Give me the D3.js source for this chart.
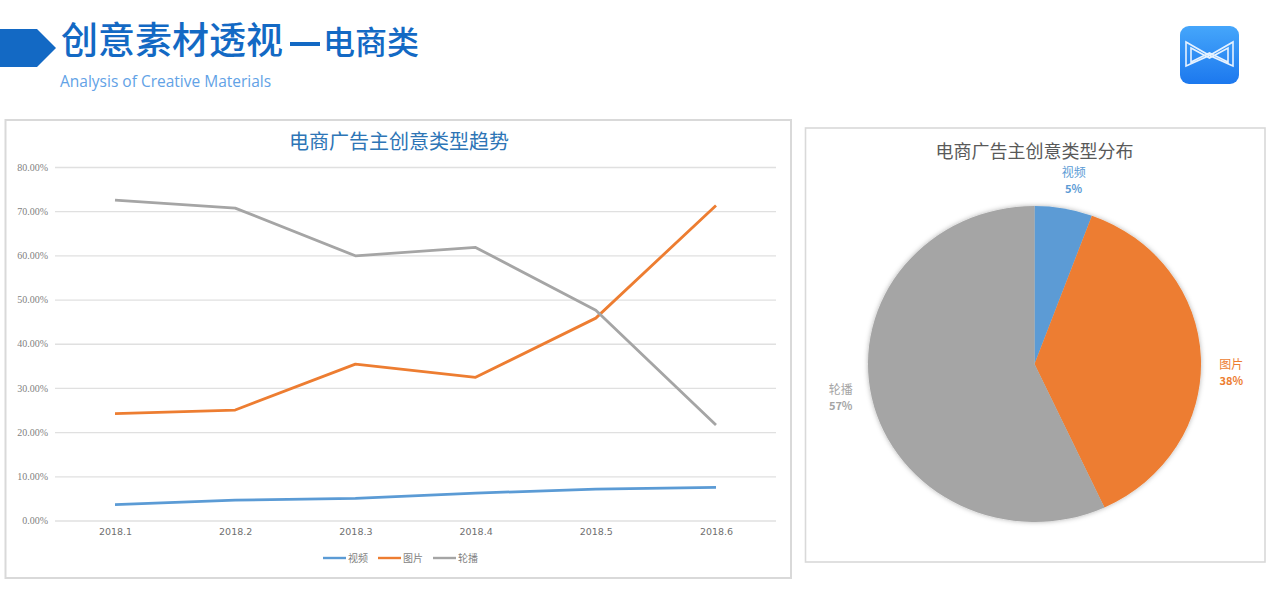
<!DOCTYPE html>
<html>
<head>
<meta charset="utf-8">
<script src="https://cdn.jsdelivr.net/npm/d3@7"></script>
<style>
  html, body { margin: 0; padding: 0; background: #fff; overflow: hidden; }
  svg { display: block; }
  text { font-family: "Noto Sans CJK SC", "Noto Sans", sans-serif; }
</style>
</head>
<body>
<div id="chart"></div>
<script>
// values
const months = ["2018.1", "2018.2", "2018.3", "2018.4", "2018.5", "2018.6"]
const yTicks = [0, 10, 20, 30, 40, 50, 60, 70, 80]
const seriesNames = ["视频", "图片", "轮播"]
const video = [3.6, 4.6, 5.0, 6.2, 7.1, 7.5]
const image = [24.2, 25.0, 35.4, 32.4, 45.8, 71.3]
const carousel = [72.5, 70.7, 59.9, 61.8, 47.6, 21.6]
const pieSlices = [5.6, 37.5, 56.9]
const pieLabels = ["5%", "38%", "57%"]
const colors = ["#5b9bd5", "#ed7d31", "#a5a5a5"]

const svg = d3.select("#chart").append("svg")
  .attr("width", 1280)
  .attr("height", 592)
  .style("background", "#fff")

const defs = svg.append("defs")
const logoGrad = defs.append("linearGradient").attr("id", "logoGrad")
  .attr("x1", 0).attr("y1", 0).attr("x2", 0).attr("y2", 1)
logoGrad.append("stop").attr("offset", 0).attr("stop-color", "#45a6fb")
logoGrad.append("stop").attr("offset", 1).attr("stop-color", "#1c78ee")
const shadow = defs.append("filter").attr("id", "pieShadow")
  .attr("x", "-10%").attr("y", "-10%").attr("width", "120%").attr("height", "120%")
shadow.append("feDropShadow").attr("dx", 0).attr("dy", 0)
  .attr("stdDeviation", 2.5).attr("flood-color", "#000").attr("flood-opacity", 0.3)

// page header
svg.append("path").attr("d", "M0,29H37L56,48L37,67H0Z").attr("fill", "#1369c4")
svg.append("text").attr("x", 61).attr("y", 54)
  .attr("font-size", 37).attr("font-weight", 500).attr("fill", "#1369c4")
  .text("创意素材透视")
svg.append("rect").attr("x", 290).attr("y", 42).attr("width", 30).attr("height", 4).attr("fill", "#1369c4")
svg.append("text").attr("x", 323).attr("y", 54)
  .attr("font-size", 32).attr("font-weight", 500).attr("fill", "#1369c4")
  .text("电商类")
svg.append("text").attr("x", 60).attr("y", 87)
  .attr("font-size", 15.5).attr("fill", "#62a2e6")
  .style("font-family", "'Open Sans', sans-serif")
  .text("Analysis of Creative Materials")

// logo
const logo = svg.append("g").attr("transform", "translate(1180,26)")
logo.append("rect").attr("width", 59).attr("height", 58).attr("rx", 9).attr("fill", "url(#logoGrad)")
logo.append("path")
  .attr("d", "M6,16L29.5,29.5L53,16V40L29.5,29.5L6,40Z M11,22L29.5,32L48,22V36L29.5,27L11,36Z")
  .attr("fill", "none").attr("stroke", "#e6f2ff").attr("stroke-width", 1.6)

// left panel: line chart
svg.append("rect").attr("x", 5.5).attr("y", 120).attr("width", 785.5).attr("height", 458)
  .attr("fill", "#fff").attr("stroke", "#d9d9d9").attr("stroke-width", 2)
svg.append("text").attr("x", 399).attr("y", 149).attr("text-anchor", "middle")
  .attr("font-size", 20).attr("fill", "#2e75b6").text("电商广告主创意类型趋势")

const x = d3.scalePoint().domain(months).range([115, 716])
const y = d3.scaleLinear().domain([0, 80]).range([520.5, 167])

const yAxis = svg.append("g").attr("transform", "translate(55,0)")
  .call(d3.axisLeft(y).tickValues(yTicks).tickSize(-721).tickPadding(7)
    .tickFormat(d => d.toFixed(2) + "%"))
yAxis.select(".domain").remove()
yAxis.selectAll("line").attr("stroke", "#e0e0e0").attr("stroke-width", 1.3)
yAxis.selectAll("text").attr("fill", "#7f7f7f").attr("font-size", 10)
  .style("font-family", "'Liberation Serif', serif")

const xAxis = svg.append("g").attr("transform", "translate(0,520.5)")
  .call(d3.axisBottom(x).tickSize(0).tickPadding(8))
xAxis.select(".domain").remove()
xAxis.selectAll("text").attr("fill", "#6f6f6f").attr("font-size", 9.5)
  .style("font-family", "'DejaVu Sans', sans-serif")

const line = d3.line().x((d, i) => x(months[i])).y(d => y(d))
svg.selectAll(".trend")
  .data([video, image, carousel])
  .enter()
  .append("path")
  .attr("class", "trend")
  .attr("d", line)
  .attr("fill", "none")
  .attr("stroke", (d, i) => colors[i])
  .attr("stroke-width", 2.8)
  .attr("stroke-linejoin", "round")

// legend under the line chart
const legend = svg.selectAll(".legend")
  .data(seriesNames)
  .enter()
  .append("g")
  .attr("class", "legend")
  .attr("transform", (d, i) => `translate(${323 + i * 55},558)`)
legend.append("line").attr("x2", 23)
  .attr("stroke", (d, i) => colors[i]).attr("stroke-width", 2.4)
legend.append("text").attr("x", 25).attr("y", 4)
  .attr("font-size", 10).attr("fill", "#7f7f7f").text(d => d)

// right panel: pie (the picture is stretched, so the pie is an ellipse)
svg.append("rect").attr("x", 805.5).attr("y", 128).attr("width", 459.5).attr("height", 434)
  .attr("fill", "#fff").attr("stroke", "#d9d9d9").attr("stroke-width", 1.6)
svg.append("text").attr("x", 1034.5).attr("y", 158).attr("text-anchor", "middle")
  .attr("font-size", 18).attr("fill", "#595959").text("电商广告主创意类型分布")

const pie = d3.pie().sort(null)
const arc = d3.arc().innerRadius(0).outerRadius(158)
const pieGroup = svg.append("g")
  .attr("transform", "translate(1034.5,364) scale(1.054,1)")
  .attr("filter", "url(#pieShadow)")
pieGroup.selectAll("path")
  .data(pie(pieSlices))
  .enter()
  .append("path")
  .attr("d", arc)
  .attr("fill", (d, i) => colors[i])

// slice labels sit a fixed way out from each slice, at the angle they have in the picture
const labelArc = d3.arc().innerRadius(187).outerRadius(187)
const labelAngles = [0.2, 1.62, 4.53]
const pieText = svg.selectAll(".pieLabel")
  .data(seriesNames)
  .enter()
  .append("g")
  .attr("class", "pieLabel")
  .attr("transform", (d, i) => {
    const c = labelArc.centroid({ startAngle: labelAngles[i], endAngle: labelAngles[i] })
    return `translate(${1034.5 + c[0] * 1.054},${364 + c[1]})`
  })
  .attr("text-anchor", "middle")
  .attr("fill", (d, i) => colors[i])
pieText.append("text").attr("y", -4).attr("font-size", 12).attr("fill", (d, i) => colors[i]).text(d => d)
pieText.append("text").attr("y", 12).attr("font-size", 11).attr("font-weight", 700)
  .attr("fill", (d, i) => colors[i]).text((d, i) => pieLabels[i])
</script>
</body>
</html>
